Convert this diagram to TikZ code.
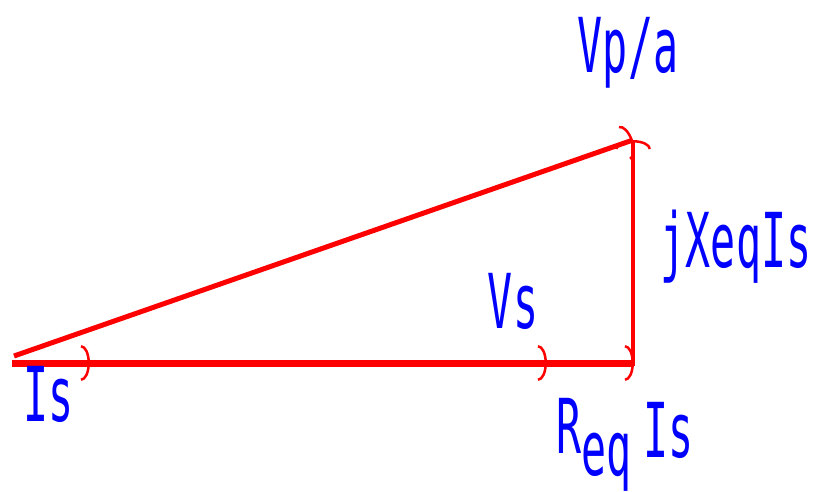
\documentclass[tikz,border=0pt]{standalone}
\usepackage{fontspec}
\newfontfamily\pixfont[FakeStretch=0.55]{DejaVu Sans Mono}
\usetikzlibrary{arrows.meta}
\tikzset{
  phasor/.style={draw=red, line width=#1, -{Arc Barb[length=9bp, width=36bp, line width=2.5bp]}},
  phasor/.default=7bp,
  lbl/.style={text=blue, font=\pixfont\fontsize{76}{80}\selectfont, inner sep=0pt, anchor=base}}

\begin{document}
\begin{tikzpicture}[x=1bp, y=-1bp]
  \useasboundingbox (0,0) rectangle (819,492);
  \coordinate (o) at (12,363);
  \coordinate (o2) at (14,356);
  \coordinate (is) at (90,363);
  \coordinate (vs) at (547,363);
  \coordinate (r) at (634,363);
  \coordinate (rb) at (633,366);
  \coordinate (top) at (633,140);
  \draw[phasor=5bp] (o2) -- (top);
  \draw[phasor] (o) -- (vs);
  \draw[phasor] (o) -- (is);
  \draw[phasor] (vs) -- (r);
  \draw[phasor=4bp] (rb) -- (top);
  \node[lbl] (lvpa) at (628,73) {Vp/a};
  \node[lbl] (ljx) at (736,268) {jXeqIs};
  \node[lbl] (lvs) at (513,328) {Vs};
  \node[lbl] (lis) at (49,421) {Is};
  \node[lbl] (lreq) at (625,453) {R\raisebox{-22bp}{eq}\,\raisebox{-4bp}{Is}};
\end{tikzpicture}
\end{document}
